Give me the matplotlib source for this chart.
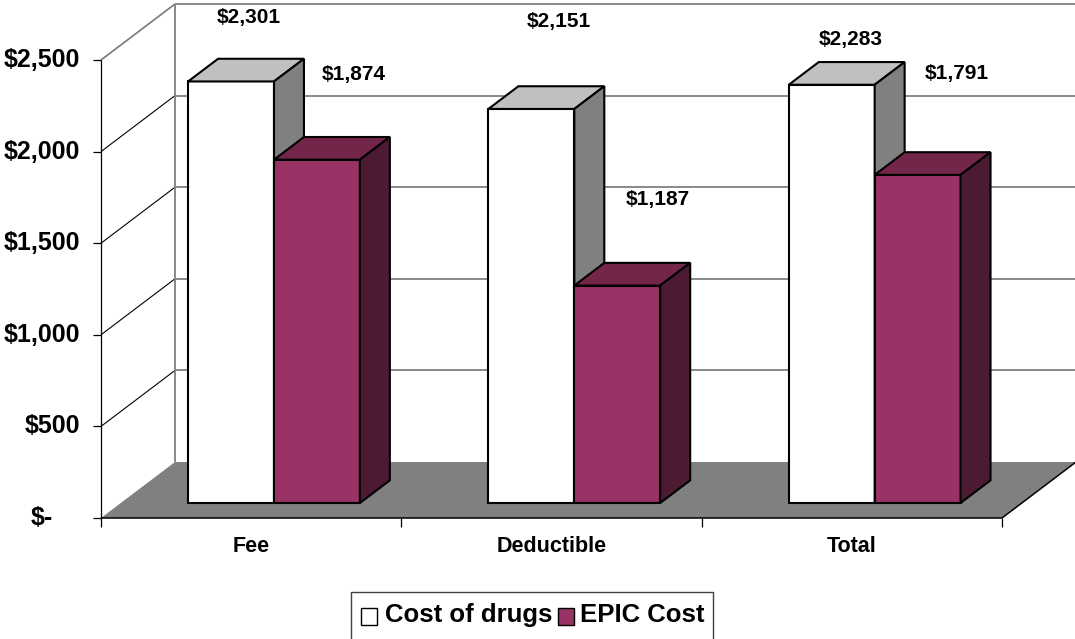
import matplotlib
matplotlib.use("Agg")
import matplotlib.pyplot as plt
from matplotlib.patches import Polygon, Rectangle

# ---- data -------------------------------------------------------------
categories = ["Fee", "Deductible", "Total"]
cost_of_drugs = [2301, 2151, 2283]
epic_cost = [1874, 1187, 1791]
series_names = ["Cost of drugs", "EPIC Cost"]
y_ticks = [0, 500, 1000, 1500, 2000, 2500]

# label offsets (pixels) from the top-front centre of each bar
label_offsets = [
    [(18, 64), (27, 87), (19, 45)],
    [(37, 85), (40, 86), (39, 101)],
]

# ---- styling ----------------------------------------------------------
FONT = "Liberation Sans"
face_colors = [
    {"front": "#FFFFFF", "top": "#C0C0C0", "side": "#808080"},
    {"front": "#993366", "top": "#732649", "side": "#4C1A33"},
]
FLOOR = "#808080"
GRID = "#808080"

W, H = 1075, 639
fig = plt.figure(figsize=(W / 100, H / 100), dpi=100)
ax = fig.add_axes([0, 0, 1, 1])
ax.set_axis_off()

# plot box on the front plane, in pixels
X0_PX, X1_PX = 101, 1002
Y0_PX, YTOP_PX = 518, 60
n = len(categories)
ymax = y_ticks[-1]
px_per_x = (X1_PX - X0_PX) / n
px_per_v = (Y0_PX - YTOP_PX) / ymax
ax.set_xlim(-X0_PX / px_per_x, (W - X0_PX) / px_per_x)
ax.set_ylim(-(H - Y0_PX) / px_per_v, Y0_PX / px_per_v)

# oblique depth vector (z = 1 is the back wall)
DEPTH_X = 74 / px_per_x
DEPTH_V = 56 / px_per_v


def P(x, v, z):
    return (x + z * DEPTH_X, v + z * DEPTH_V)


def poly(pts, fc, ec="none", lw=0.0, z=1):
    ax.add_patch(Polygon(pts, closed=True, facecolor=fc, edgecolor=ec,
                         linewidth=lw, joinstyle="miter", zorder=z, clip_on=False))


def line(p, q, color, lw, z=2):
    ax.plot([p[0], q[0]], [p[1], q[1]], color=color, lw=lw,
            solid_capstyle="butt", zorder=z, clip_on=False)


# ---- walls and floor -------------------------------------------------
for v in y_ticks[1:]:
    line(P(0, v, 1), P(n, v, 1), GRID, 1.3, z=1)        # back wall grid
    line(P(0, v, 0), P(0, v, 1), "#000000" if v < ymax else GRID,
         0.8 if v < ymax else 1.3, z=1)                  # side wall grid
line(P(0, 0, 1), P(0, ymax, 1), GRID, 1.3, z=1)          # back wall left edge

poly([P(0, 0, 0), P(n, 0, 0), P(n, 0, 1), P(0, 0, 1)], FLOOR, z=2)
line(P(0, 0, 0), P(n, 0, 0), "#000000", 1.1, z=3)
line(P(n, 0, 0), P(n, 0, 1), "#000000", 1.1, z=3)
line(P(0, 0, 0), P(0, ymax, 0), "#000000", 0.9, z=3)     # value axis

# value-axis ticks and labels
tick_dx = 8 / px_per_x
for v in y_ticks:
    line(P(-tick_dx, v, 0), P(0, v, 0), "#000000", 0.9, z=3)
    text = "$-" if v == 0 else f"${v:,}"
    off = -48 if v == 0 else -21
    ax.annotate(text, (0, v), xytext=(off, 0), textcoords="offset pixels",
                ha="right", va="center", fontsize=18, fontweight="bold",
                family=FONT, annotation_clip=False)

# category ticks and labels
tick_dv = 9 / px_per_v
for i in range(n + 1):
    line(P(i, 0, 0), P(i, -tick_dv, 0), "#000000", 0.9, z=3)
for i, name in enumerate(categories):
    ax.annotate(name, P(i + 0.5, 0, 0), xytext=(0, -28), textcoords="offset pixels",
                ha="center", va="center", fontsize=15.5, fontweight="bold",
                family=FONT, annotation_clip=False)

# ---- 3-D bars ----------------------------------------------------------
Z_FRONT, Z_BACK = 0.268, 0.673
GROUP_START = 0.224
BAR_W = 0.286
EDGE_LW = 1.5

series = [cost_of_drugs, epic_cost]
zo = 10
for i in range(n):
    for s, values in enumerate(series):
        v = values[i]
        x0 = i + GROUP_START + s * BAR_W
        x1 = x0 + BAR_W
        c = face_colors[s]
        poly([P(x0, 0, Z_FRONT), P(x1, 0, Z_FRONT), P(x1, v, Z_FRONT), P(x0, v, Z_FRONT)],
             c["front"], "#000000", EDGE_LW, z=zo)
        poly([P(x0, v, Z_FRONT), P(x1, v, Z_FRONT), P(x1, v, Z_BACK), P(x0, v, Z_BACK)],
             c["top"], "#000000", EDGE_LW, z=zo)
        poly([P(x1, 0, Z_FRONT), P(x1, 0, Z_BACK), P(x1, v, Z_BACK), P(x1, v, Z_FRONT)],
             c["side"], "#000000", EDGE_LW, z=zo)
        zo += 1
        ax.annotate(f"${v:,}", P((x0 + x1) / 2, v, Z_FRONT),
                    xytext=label_offsets[s][i], textcoords="offset pixels",
                    ha="center", va="center", fontsize=15, fontweight="bold",
                    family=FONT, annotation_clip=False, zorder=50)


# ---- legend ------------------------------------------------------------
def fx(px):
    return px / W


def fy(py):
    return 1 - py / H


fig.add_artist(Rectangle((fx(351), fy(645)), fx(713) - fx(351), fy(592) - fy(645),
                         transform=fig.transFigure, facecolor="white",
                         edgecolor="#404040", linewidth=1.0))
legend_items = [(361, 385), (558, 580)]
for (mx, tx), name, c in zip(legend_items, series_names, face_colors):
    fig.add_artist(Rectangle((fx(mx), fy(625)), fx(16), fy(608) - fy(625),
                             transform=fig.transFigure, facecolor=c["front"],
                             edgecolor="#000000", linewidth=1.0))
    fig.text(fx(tx), fy(615), name, ha="left", va="center", fontsize=18.5,
             fontweight="bold", family=FONT)

fig.savefig("out.png", dpi=100)
